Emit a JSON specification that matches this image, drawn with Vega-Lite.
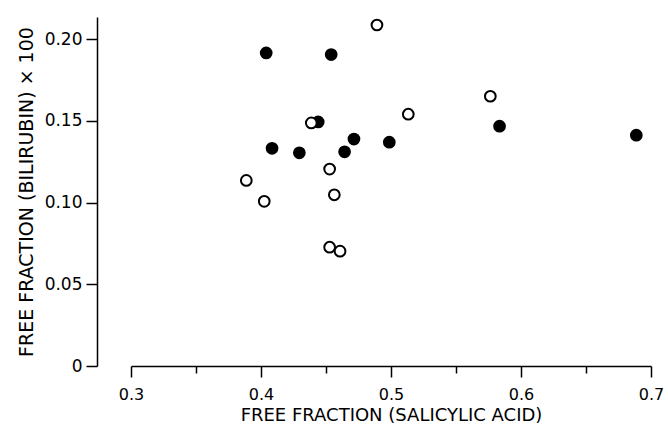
{
  "$schema": "https://vega.github.io/schema/vega-lite/v6.json",
  "width": 520,
  "height": 349,
  "autosize": "none",
  "padding": {"left": 131, "top": 17, "right": 17, "bottom": 59},
  "background": "white",
  "config": {
    "view": {"stroke": null},
    "axis": {
      "grid": false,
      "domainColor": "black",
      "domainWidth": 1.5,
      "tickColor": "black",
      "tickWidth": 1.5,
      "labelColor": "black",
      "titleColor": "black",
      "labelFont": "DejaVu Sans",
      "titleFont": "DejaVu Sans",
      "titleFontWeight": "normal",
      "labelFlush": false,
      "labelOverlap": false
    }
  },
  "data": {
    "values": [
      {"salicylic": 0.404, "bilirubin": 0.1916, "group": "filled"},
      {"salicylic": 0.454, "bilirubin": 0.1906, "group": "filled"},
      {"salicylic": 0.444, "bilirubin": 0.1494, "group": "filled"},
      {"salicylic": 0.4085, "bilirubin": 0.1332, "group": "filled"},
      {"salicylic": 0.4295, "bilirubin": 0.1305, "group": "filled"},
      {"salicylic": 0.4715, "bilirubin": 0.1389, "group": "filled"},
      {"salicylic": 0.4643, "bilirubin": 0.1311, "group": "filled"},
      {"salicylic": 0.4987, "bilirubin": 0.137, "group": "filled"},
      {"salicylic": 0.5835, "bilirubin": 0.1468, "group": "filled"},
      {"salicylic": 0.6887, "bilirubin": 0.1413, "group": "filled"},
      {"salicylic": 0.4892, "bilirubin": 0.2087, "group": "open"},
      {"salicylic": 0.4387, "bilirubin": 0.1488, "group": "open"},
      {"salicylic": 0.5133, "bilirubin": 0.1541, "group": "open"},
      {"salicylic": 0.4528, "bilirubin": 0.1205, "group": "open"},
      {"salicylic": 0.4564, "bilirubin": 0.1048, "group": "open"},
      {"salicylic": 0.4025, "bilirubin": 0.1008, "group": "open"},
      {"salicylic": 0.3887, "bilirubin": 0.1136, "group": "open"},
      {"salicylic": 0.4528, "bilirubin": 0.0727, "group": "open"},
      {"salicylic": 0.4608, "bilirubin": 0.0703, "group": "open"},
      {"salicylic": 0.5764, "bilirubin": 0.1651, "group": "open"}
    ]
  },
  "mark": {"type": "point", "shape": "circle", "filled": true, "stroke": "black", "strokeWidth": 2, "size": 115, "opacity": 1},
  "encoding": {
    "x": {
      "field": "salicylic",
      "type": "quantitative",
      "scale": {"domain": [0.3, 0.7], "nice": false, "zero": false},
      "axis": {
        "title": "FREE FRACTION (SALICYLIC ACID)",
        "titleFontSize": 18,
        "titlePadding": 4,
        "values": [0.3, 0.35, 0.4, 0.45, 0.5, 0.55, 0.6, 0.65, 0.7],
        "labelExpr": "abs(datum.value*10 - round(datum.value*10)) < 0.001 ? format(datum.value, '.1f') : ''",
        "labelFontSize": 16,
        "labelPadding": 9,
        "tickSize": {"condition": {"test": "abs(datum.value*10 - round(datum.value*10)) < 0.001", "value": 11}, "value": 7}
      }
    },
    "y": {
      "field": "bilirubin",
      "type": "quantitative",
      "scale": {"domain": [0, 0.2136], "nice": false, "zero": true},
      "axis": {
        "title": "FREE FRACTION (BILIRUBIN) × 100",
        "titleFontSize": 19,
        "titlePadding": 8,
        "offset": 34,
        "values": [0, 0.05, 0.1, 0.15, 0.2],
        "labelExpr": "datum.value === 0 ? '0' : format(datum.value, '.2f')",
        "labelFontSize": 17,
        "labelPadding": 4,
        "tickSize": 11
      }
    },
    "fill": {
      "field": "group",
      "type": "nominal",
      "scale": {"domain": ["filled", "open"], "range": ["black", "white"]},
      "legend": null
    }
  }
}
